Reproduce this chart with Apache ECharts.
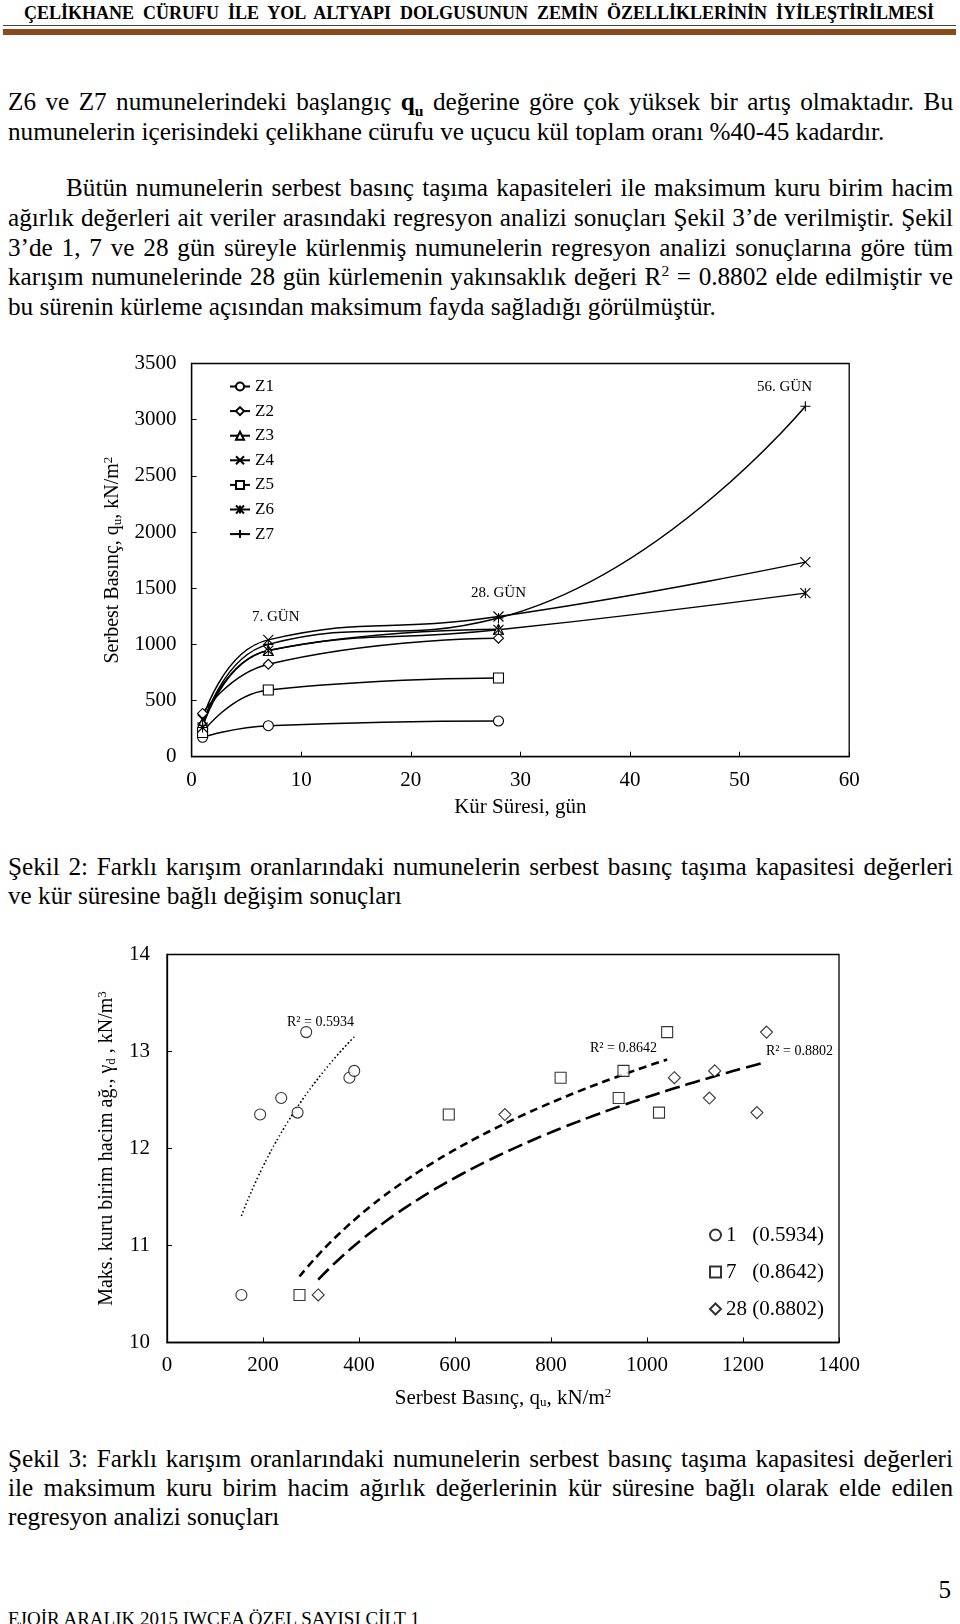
<!DOCTYPE html>
<html>
<head>
<meta charset="utf-8">
<script src="https://cdn.jsdelivr.net/npm/echarts@6/dist/echarts.min.js"></script>
<style>
  html, body { margin: 0; padding: 0; background: #fff; }
  #page { position: relative; width: 960px; height: 1624px; overflow: hidden;
          font-family: "Liberation Serif", "Times New Roman", serif; color: #000; }
  .ln { position: absolute; left: 8px; width: 945px; height: 30px; line-height: 30px;
        font-size: 25.2px; white-space: nowrap; }
  .j { text-align: justify; text-align-last: justify; }
  sub, sup { font-size: 0.62em; line-height: 0; }
  #hd { position: absolute; left: 24px; width: 910px; top: 2px; line-height: 22px;
        font-size: 18px; font-weight: bold; white-space: nowrap; }
  #rule1 { position: absolute; left: 3px; width: 953px; top: 25px; height: 1px; background: #444; }
  #rule2 { position: absolute; left: 3px; width: 953px; top: 29px; height: 6px; background: #8a4a1c; }
  #chart { position: absolute; left: 0; top: 0; width: 960px; height: 1624px; }
</style>
</head>
<body>
<div id="page">
  <div id="hd" class="j">ÇELİKHANE CÜRUFU İLE YOL ALTYAPI DOLGUSUNUN ZEMİN ÖZELLİKLERİNİN İYİLEŞTİRİLMESİ</div>
  <div id="rule1"></div>
  <div id="rule2"></div>

  <div class="ln j" style="top:86.5px">Z6 ve Z7 numunelerindeki başlangıç <b>q<sub>u</sub></b> değerine göre çok yüksek bir artış olmaktadır. Bu</div>
  <div class="ln" style="top:116.5px">numunelerin içerisindeki çelikhane cürufu ve uçucu kül toplam oranı %40-45 kadardır.</div>

  <div class="ln j" style="top:172.5px;left:66px;width:887px">Bütün numunelerin serbest basınç taşıma kapasiteleri ile maksimum kuru birim hacim</div>
  <div class="ln j" style="top:202.5px">ağırlık değerleri ait veriler arasındaki regresyon analizi sonuçları Şekil 3’de verilmiştir. Şekil</div>
  <div class="ln j" style="top:232.5px">3’de 1, 7 ve 28 gün süreyle kürlenmiş numunelerin regresyon analizi sonuçlarına göre tüm</div>
  <div class="ln j" style="top:261.5px">karışım numunelerinde 28 gün kürlemenin yakınsaklık değeri R<sup>2</sup> = 0.8802 elde edilmiştir ve</div>
  <div class="ln" style="top:291.5px">bu sürenin kürleme açısından maksimum fayda sağladığı görülmüştür.</div>

  <div class="ln j" style="top:852px">Şekil 2: Farklı karışım oranlarındaki numunelerin serbest basınç taşıma kapasitesi değerleri</div>
  <div class="ln" style="top:881px">ve kür süresine bağlı değişim sonuçları</div>

  <div class="ln j" style="top:1444px">Şekil 3: Farklı karışım oranlarındaki numunelerin serbest basınç taşıma kapasitesi değerleri</div>
  <div class="ln j" style="top:1473px">ile maksimum kuru birim hacim ağırlık değerlerinin kür süresine bağlı olarak elde edilen</div>
  <div class="ln" style="top:1502px">regresyon analizi sonuçları</div>

  <div class="ln" style="top:1575px;text-align:right;width:943px">5</div>
  <div class="ln" style="top:1604px;font-size:19px">EJOİR ARALIK 2015 IWCEA ÖZEL SAYISI CİLT 1</div>

  <div id="chart"></div>
</div>

<script>
// Şekil 2: kür süresi - serbest basınç
var days = [1, 7, 28, 56];
var mixNames = ['Z1', 'Z2', 'Z3', 'Z4', 'Z5', 'Z6', 'Z7'];
var z1 = [173, 276, 318];
var z2 = [385, 823, 1055];
var z3 = [300, 945, 1135];
var z4 = [330, 1040, 1248, 1732];
var z5 = [215, 594, 701];
var z6 = [260, 945, 1129, 1456];
var z7 = [280, 1000, 1235, 3120];

// Şekil 3: serbest basınç - maks. kuru birim hacim ağırlık
var cureDays = ['1', '7', '28'];
var r2Values = ['0.5934', '0.8642', '0.8802'];
var qu1 = [155, 194, 238, 272, 290, 380, 390];
var gd1 = [10.49, 12.35, 12.52, 12.37, 13.20, 12.73, 12.80];
var qu7 = [276, 587, 820, 941, 951, 1025, 1042];
var gd7 = [10.49, 12.35, 12.73, 12.52, 12.80, 12.37, 13.20];
var qu28 = [315, 704, 1057, 1130, 1141, 1229, 1249];
var gd28 = [10.49, 12.35, 12.73, 12.52, 12.80, 12.37, 13.20];

var font = '"Liberation Serif", "Times New Roman", serif';

// logaritmik regresyon (Excel trend çizgisi gibi)
function logTrend(xs, ys) {
  var n = xs.length
  var lx = xs.map(function(v) { return Math.log(v) })
  var mx = 0, my = 0
  for (var i = 0; i < n; i++) { mx += lx[i] / n; my += ys[i] / n }
  var sxy = 0, sxx = 0
  for (var i = 0; i < n; i++) {
    sxy += (lx[i] - mx) * (ys[i] - my)
    sxx += (lx[i] - mx) * (lx[i] - mx)
  }
  var a = sxy / sxx
  var b = my - a * mx
  var x0 = Math.min.apply(null, xs)
  var x1 = Math.max.apply(null, xs)
  var pts = []
  for (var k = 0; k <= 40; k++) {
    var x = x0 + (x1 - x0) * k / 40
    pts.push([x, a * Math.log(x) + b])
  }
  return pts
}

var chart = echarts.init(document.getElementById('chart'))

var xPath = 'path://M0,0L10,10M10,0L0,10'
var starPath = 'path://M0,0L10,10M10,0L0,10M5,0L5,10'
var plusPath = 'path://M5,0L5,10M0,5L10,5'
var zData = [z1, z2, z3, z4, z5, z6, z7]
var zSymbols = ['circle', 'diamond', 'triangle', xPath, 'rect', starPath, plusPath]

var series = []
for (var i = 0; i < zData.length; i++) {
  series.push({
    name: mixNames[i],
    type: 'line',
    xAxisIndex: 0,
    yAxisIndex: 0,
    smooth: 0.5,
    data: zData[i].map(function(v, k) { return [days[k], v] }),
    symbol: zSymbols[i],
    symbolSize: 10,
    showAllSymbol: true,
    lineStyle: { color: '#000', width: 1.5 },
    itemStyle: { color: '#fff', borderColor: '#000', borderWidth: 1.1 },
    z: 3
  })
}

var scatterX = [qu1, qu7, qu28]
var scatterY = [gd1, gd7, gd28]
var scatterSymbols = ['circle', 'rect', 'diamond']
var trendTypes = [[1.5, 2.5], [8, 5], [15, 6]]
var trendWidths = [1.6, 2.6, 2.6]
for (var j = 0; j < 3; j++) {
  series.push({
    name: cureDays[j],
    type: 'scatter',
    xAxisIndex: 1,
    yAxisIndex: 1,
    data: scatterX[j].map(function(v, k) { return [v, scatterY[j][k]] }),
    symbol: scatterSymbols[j],
    symbolSize: j === 2 ? 12 : 11,
    itemStyle: { color: '#fff', borderColor: '#000', borderWidth: 1.1 },
    z: 4
  })
  series.push({
    name: 'trend' + cureDays[j],
    type: 'line',
    xAxisIndex: 1,
    yAxisIndex: 1,
    data: logTrend(scatterX[j], scatterY[j]),
    showSymbol: false,
    smooth: true,
    lineStyle: { color: '#000', width: trendWidths[j], type: trendTypes[j] },
    z: 2
  })
}

var axisCommon = {
  axisLine: { lineStyle: { color: '#000', width: 1.3 } },
  axisTick: { inside: true, length: 5, lineStyle: { color: '#000', width: 1 } },
  splitLine: { show: false },
  axisLabel: { color: '#000', fontSize: 21, fontFamily: font },
  nameLocation: 'middle',
  nameTextStyle: {
    color: '#000', fontSize: 20, fontFamily: font,
    rich: {
      sub: { fontSize: 13, fontFamily: font, color: '#000', padding: [9, 0, 0, 0] },
      sup: { fontSize: 13, fontFamily: font, color: '#000', padding: [0, 0, 9, 0] }
    }
  }
}

function ax(extra) {
  var a = echarts.util.merge(echarts.util.clone(axisCommon), extra, true)
  a.axisLabel.formatter = function(v) { return String(v) } // binlik ayırıcı yok
  return a
}

function label(x, y, text, size) {
  return {
    type: 'text', x: x, y: y, silent: true,
    style: { text: text, font: size + 'px ' + font, fill: '#000', verticalAlign: 'middle' }
  }
}

var option = {
  animation: false,
  textStyle: { fontFamily: font, color: '#000' },
  grid: [
    { left: 191.6, top: 363.5, width: 657.6, height: 393.2, show: true, borderColor: '#000', borderWidth: 1.3, outerBoundsMode: 'none' },
    { left: 167, top: 954.5, width: 672, height: 388, show: true, borderColor: '#000', borderWidth: 1.3, outerBoundsMode: 'none' }
  ],
  xAxis: [
    ax({ gridIndex: 0, type: 'value', min: 0, max: 60, interval: 10,
      axisLabel: { margin: 13 }, name: 'Kür Süresi, gün', nameGap: 40, nameTextStyle: { fontSize: 21 } }),
    ax({ gridIndex: 1, type: 'value', min: 0, max: 1400, interval: 200,
      axisLabel: { margin: 12 }, name: 'Serbest Basınç, q{sub|u}, kN/m{sup|2}', nameGap: 45, nameTextStyle: { fontSize: 21 } })
  ],
  yAxis: [
    ax({ gridIndex: 0, type: 'value', min: 0, max: 3500, interval: 500,
      axisLabel: { margin: 15 }, name: 'Serbest Basınç, q{sub|u}, kN/m{sup|2}', nameGap: 55 }),
    ax({ gridIndex: 1, type: 'value', min: 10, max: 14, interval: 1,
      axisLabel: { margin: 17 }, name: 'Maks. kuru birim hacim ağ., γ{sub|d} , kN/m{sup|3}', nameGap: 31 })
  ],
  legend: [
    {
      data: mixNames, orient: 'vertical', left: 229, top: 378, padding: 0,
      itemWidth: 20, itemHeight: 10, itemGap: 7.6, selectedMode: false,
      textStyle: { fontSize: 17, lineHeight: 17, fontFamily: font, color: '#000' }
    },
    {
      data: cureDays, orient: 'vertical', left: 709, top: 1224.5, padding: 0,
      itemWidth: 11, itemHeight: 11, itemGap: 16, selectedMode: false,
      formatter: function(name) {
        var idx = cureDays.indexOf(name)
        return name + (name.length > 1 ? ' ' : '   ') + '(' + r2Values[idx] + ')'
      },
      textStyle: { fontSize: 21, lineHeight: 21, fontFamily: font, color: '#000' }
    }
  ],
  graphic: [
    label(252, 617, '7. GÜN', 15),
    label(471, 593, '28. GÜN', 15),
    label(757, 387, '56. GÜN', 15),
    label(287, 1022, 'R² = ' + r2Values[0], 14),
    label(590, 1048, 'R² = ' + r2Values[1], 14),
    label(766, 1051, 'R² = ' + r2Values[2], 14)
  ],
  series: series
}

chart.setOption(option)
window.addEventListener('resize', function() {
  chart.resize()
})
</script>
</body>
</html>
